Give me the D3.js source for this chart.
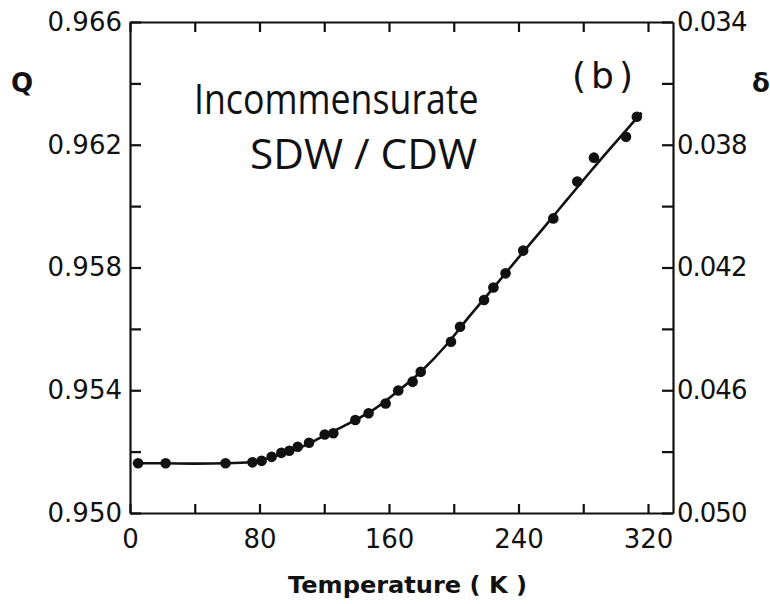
<!DOCTYPE html>
<html lang="en">
<head>
<meta charset="UTF-8">
<title>Q vs Temperature</title>
<script src="https://d3js.org/d3.v7.min.js"></script>
<style>
    body { margin: 0; background: #fff; }
    .axis path, .axis line { stroke: #111; stroke-width: 2.2; fill: none; }
    .axis text { font-family: "DejaVu Sans", sans-serif; font-size: 26px; fill: #111; }
    .title { font-family: "DejaVu Sans", sans-serif; font-weight: bold; fill: #111; }
    .note { font-family: "Open Sans", sans-serif; fill: #111; }
</style>
</head>
<body>
<svg></svg>
<script>
    // measured points (temperature K, wavevector Q)
    var tempK = [5, 22, 59, 75.6, 81.3, 87.5, 93.5, 98.4, 103.6, 110.6, 120.3, 125.6, 139.2, 147.4,
                 157.9, 165.7, 174.6, 179.6, 198.3, 203.9, 218.7, 224.5, 232, 242.9, 261.5, 276.3,
                 286.6, 306.4, 313.1];
    var qVal = [0.95162, 0.95162, 0.95162, 0.95165, 0.95170, 0.95183, 0.95196, 0.95203, 0.95216, 0.95229,
                0.95256, 0.95260, 0.95303, 0.95325, 0.95357, 0.95399, 0.95428, 0.95460, 0.95558, 0.95607,
                0.95694, 0.95735, 0.95781, 0.95855, 0.95960, 0.96080, 0.96158, 0.96226, 0.96291];

    // smooth curve drawn through the data
    var fitT = [2, 20, 40, 60, 75, 90, 105, 120, 135, 150, 165, 180, 195, 210, 225, 240, 255, 270, 285, 300, 316];
    var fitQ = [0.95162, 0.95162, 0.95161, 0.95162, 0.95166, 0.95186, 0.95213, 0.95252, 0.95291, 0.95335,
                0.95395, 0.95462, 0.95545, 0.95643, 0.95737, 0.95832, 0.95926, 0.96021, 0.96116, 0.96208, 0.96305];

    var xTicks = [0, 40, 80, 120, 160, 200, 240, 280, 320];
    var xLabels = [0, 80, 160, 240, 320];
    var qTicks = [0.950, 0.952, 0.954, 0.956, 0.958, 0.960, 0.962, 0.964, 0.966];
    var qLabels = [0.950, 0.954, 0.958, 0.962, 0.966];
    var dTicks = [0.034, 0.036, 0.038, 0.040, 0.042, 0.044, 0.046, 0.048, 0.050];
    var dLabels = [0.034, 0.038, 0.042, 0.046, 0.050];

    var w = 770, h = 604;
    var frame = { left: 130, right: 673, top: 22, bottom: 513 };

    var svg = d3.select("svg").attr("width", w).attr("height", h);

    var x = d3.scaleLinear().domain([0, 320]).range([frame.left, 648]);
    var y = d3.scaleLinear().domain([0.950, 0.966]).range([frame.bottom, frame.top]);
    var yd = d3.scaleLinear().domain([0.050, 0.034]).range([frame.bottom, frame.top]);
    var xEnd = x.invert(frame.right);
    var xFull = x.copy().domain([0, xEnd]).range([frame.left, frame.right]);

    function has(list, v) { return list.some(d => Math.abs(d - v) < 1e-9); }
    var f3 = d3.format(".3f");

    // bottom axis, ticks pointing in
    svg.append("g").attr("class", "axis")
        .attr("transform", "translate(0," + frame.bottom + ")")
        .call(d3.axisBottom(xFull).tickValues(xTicks).tickSizeInner(-9).tickSizeOuter(0).tickPadding(12)
            .tickFormat(d => has(xLabels, d) ? d : ""))
        .selectAll("text").attr("dy", "0.9em");

    // top axis
    svg.append("g").attr("class", "axis")
        .attr("transform", "translate(0," + frame.top + ")")
        .call(d3.axisTop(xFull).tickValues(xTicks).tickSizeInner(-10).tickSizeOuter(0).tickFormat(""));

    // left Q axis
    svg.append("g").attr("class", "axis")
        .attr("transform", "translate(" + frame.left + ",0)")
        .call(d3.axisLeft(y).tickValues(qTicks).tickSizeInner(-11).tickSizeOuter(0).tickPadding(8)
            .tickFormat(d => has(qLabels, d) ? f3(d) : ""));

    // right delta axis
    svg.append("g").attr("class", "axis")
        .attr("transform", "translate(" + frame.right + ",0)")
        .call(d3.axisRight(yd).tickValues(dTicks).tickSizeInner(-11).tickSizeOuter(0).tickPadding(4)
            .tickFormat(d => has(dLabels, d) ? f3(d) : ""))
        .selectAll("text").attr("letter-spacing", -1);

    // fit curve
    var line = d3.line().x(d => x(d[0])).y(d => y(d[1])).curve(d3.curveMonotoneX);
    svg.append("path")
        .datum(d3.zip(fitT, fitQ))
        .attr("d", line)
        .attr("fill", "none")
        .attr("stroke", "#111")
        .attr("stroke-width", 2.6);

    // data points
    svg.append("g").selectAll("circle")
        .data(d3.zip(tempK, qVal))
        .join("circle")
        .attr("cx", d => x(d[0]))
        .attr("cy", d => y(d[1]))
        .attr("r", 5.3)
        .attr("fill", "#111");

    // labels
    svg.append("text").attr("class", "title")
        .attr("x", 288).attr("y", 593)
        .attr("font-size", 23)
        .attr("textLength", 239).attr("lengthAdjust", "spacingAndGlyphs")
        .text("Temperature  ( K )");

    svg.append("text").attr("class", "title")
        .attr("x", 22).attr("y", 92).attr("text-anchor", "middle").attr("font-size", 26)
        .text("Q");

    svg.append("text").attr("class", "title")
        .attr("x", 761).attr("y", 92).attr("text-anchor", "middle").attr("font-size", 26)
        .text("δ");

    svg.append("text")
        .attr("x", 572).attr("y", 88)
        .attr("font-family", "DejaVu Sans, sans-serif").attr("font-size", 36)
        .attr("fill", "#111")
        .attr("textLength", 61).attr("lengthAdjust", "spacing")
        .text("(b)");

    svg.append("text").attr("class", "note")
        .attr("transform", "translate(194,114) scale(0.94,1.12)")
        .attr("font-size", 38)
        .text("Incommensurate");
    svg.append("text").attr("class", "note")
        .attr("transform", "translate(250,169) scale(1,1.12)")
        .attr("font-size", 38)
        .attr("textLength", 227).attr("lengthAdjust", "spacingAndGlyphs")
        .text("SDW / CDW");
</script>
</body>
</html>
